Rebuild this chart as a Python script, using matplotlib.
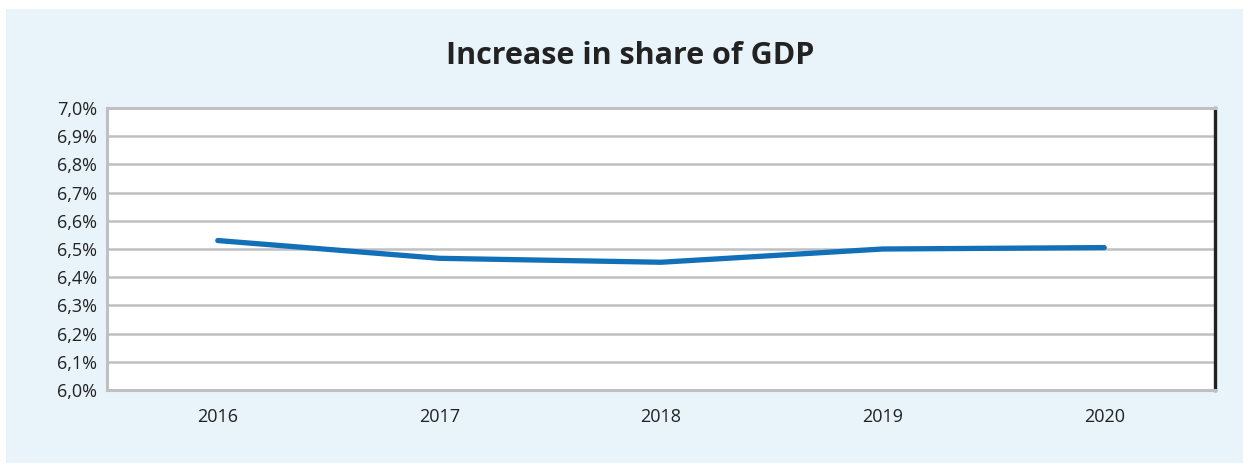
import numpy as np
import matplotlib.pyplot as plt
from matplotlib.patches import Rectangle
from matplotlib.ticker import FuncFormatter, MultipleLocator

years = ["2016", "2017", "2018", "2019", "2020"]
share = [6.53, 6.467, 6.453, 6.50, 6.505]

title = "Increase in share of GDP"
line_color = "#1170B8"
panel_color = "#E8F3FA"
grid_color = "#C0C0C4"

plt.rcParams["font.family"] = ["Open Sans", "DejaVu Sans"]

fig = plt.figure(figsize=(12.5, 4.65), dpi=100)
fig.patch.set_facecolor("white")
fig.add_artist(Rectangle((6 / 1250, 2 / 465), 1237 / 1250, 454 / 465,
                         transform=fig.transFigure, facecolor=panel_color,
                         edgecolor="none", zorder=0))

ax = fig.add_axes([107 / 1250, 75 / 465, 1108 / 1250, 282 / 465])
ax.set_facecolor("white")

x = np.arange(len(years))
ax.plot(x, share, color=line_color, lw=3.8, solid_capstyle="round",
        solid_joinstyle="round", zorder=3)

ax.set_xlim(-0.5, len(years) - 0.5)
ax.set_ylim(6.0, 7.0)
ax.yaxis.set_major_locator(MultipleLocator(0.1))
ax.yaxis.set_major_formatter(FuncFormatter(lambda v, _: f"{v:.1f}%".replace(".", ",")))
ax.set_xticks(x)
ax.set_xticklabels(years)
ax.grid(axis="y", color=grid_color, lw=1.8, zorder=1)
ax.set_axisbelow(True)
ax.tick_params(axis="both", length=0, labelsize=13, colors="#222222")
ax.tick_params(axis="x", pad=13)
ax.tick_params(axis="y", pad=7)

for side in ("left", "bottom", "top"):
    ax.spines[side].set_color(grid_color)
    ax.spines[side].set_linewidth(2.2)
ax.spines["right"].set_color("#222222")
ax.spines["right"].set_linewidth(2.4)

fig.text(630 / 1250, 1 - 56 / 465, title, ha="center", va="center",
         fontsize=22, fontweight="bold", color="#222222")

fig.savefig("out.png", dpi=100, facecolor=fig.get_facecolor())
